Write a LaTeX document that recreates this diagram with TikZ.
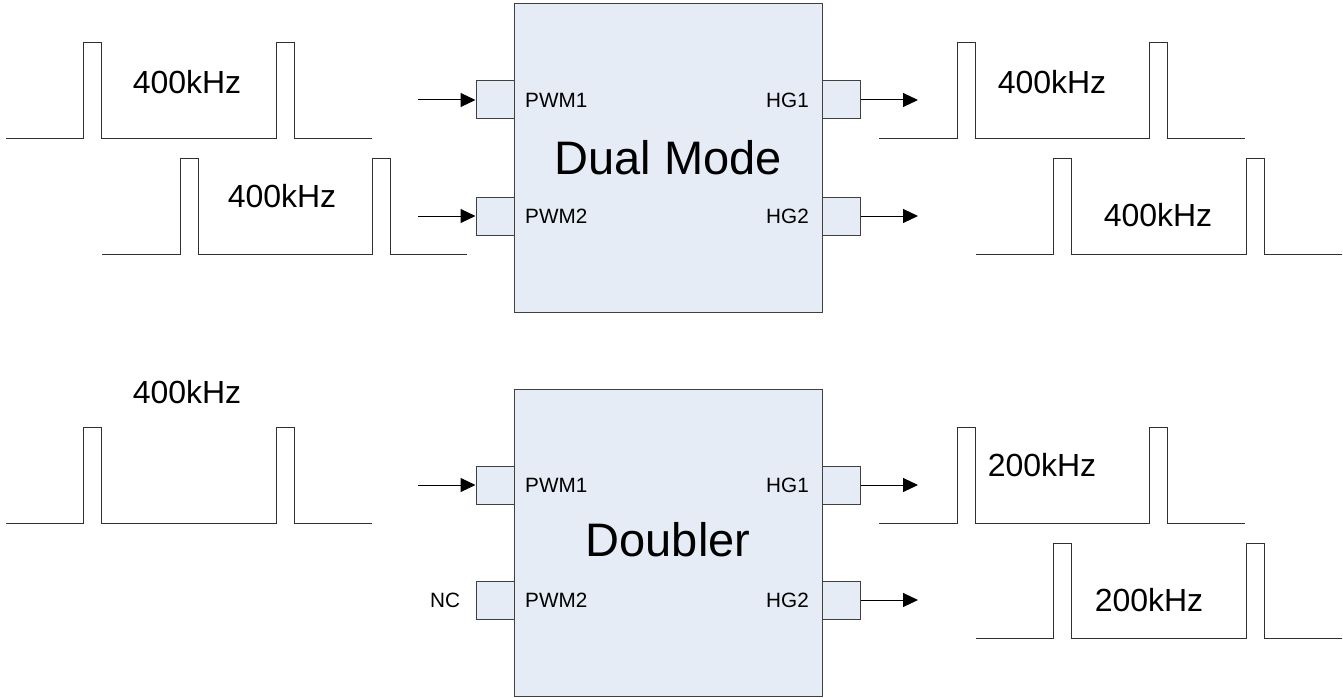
\documentclass[tikz,border=0pt]{standalone}
\usepackage{fontspec}
\setmainfont{Liberation Sans}
\usetikzlibrary{arrows.meta}
\definecolor{boxfill}{HTML}{E6ECF6}
\definecolor{boxline}{HTML}{404040}
\definecolor{waveline}{HTML}{303030}
\tikzset{
  chip/.style={draw=boxline, fill=boxfill, line width=1pt, minimum width=308pt, minimum height=308pt, inner sep=0pt},
  pin/.style={draw=boxline, fill=boxfill, line width=1pt, minimum width=38pt, minimum height=38pt, inner sep=0pt},
  pinlabel/.style={inner sep=0pt, font=\fontsize{20.7}{24}\selectfont},
  freqlabel/.style={inner sep=0pt, font=\fontsize{32}{38}\selectfont},
  chiplabel/.style={inner sep=0pt, font=\fontsize{47}{56}\selectfont},
  wave/.style={draw=waveline, line width=1pt},
  arr/.style={draw=black, line width=1pt, -{Triangle[length=15pt, width=14pt]}}
}
\begin{document}
\begin{tikzpicture}[x=1pt, y=-1pt]
\useasboundingbox (0,0) rectangle (1343,698);

% ---------- Top: Dual Mode ----------
\node[chip] (dm) at (668,158) {};
\node[chiplabel] (dmlabel) at (668,158) {Dual Mode};
\node[pin] (dmp1) at (495,100) {};
\node[pin] (dmp2) at (495,216) {};
\node[pin] (dmh1) at (841.5,100) {};
\node[pin] (dmh2) at (841.5,216) {};
\node[pinlabel, anchor=west] (dmpwm1) at (525,100) {PWM1};
\node[pinlabel, anchor=west] (dmpwm2) at (525,216) {PWM2};
\node[pinlabel, anchor=east] (dmhg1) at (809,100) {HG1};
\node[pinlabel, anchor=east] (dmhg2) at (809,216) {HG2};

\coordinate (dmin1) at (418,100);
\coordinate (dmin2) at (418,216);
\coordinate (dmout1) at (918,100);
\coordinate (dmout2) at (918,216);
\draw[arr] (dmin1) -- (dmp1.west);
\draw[arr] (dmin2) -- (dmp2.west);
\draw[arr] (dmh1.east) -- (dmout1);
\draw[arr] (dmh2.east) -- (dmout2);

% waveforms top-left
\draw[wave] (6,138) -- (83,138) -- (83,43) -- (101,43) -- (101,138) -- (276,138) -- (276,43) -- (294,43) -- (294,138) -- (372,138);
\node[freqlabel] (f1) at (187,82) {400kHz};
\draw[wave] (102,254) -- (180,254) -- (180,158) -- (198,158) -- (198,254) -- (372,254) -- (372,158) -- (390,158) -- (390,254) -- (467,254);
\node[freqlabel] (f2) at (282,196) {400kHz};

% waveforms top-right
\draw[wave] (879,138) -- (957,138) -- (957,43) -- (975,43) -- (975,138) -- (1149,138) -- (1149,43) -- (1167,43) -- (1167,138) -- (1245,138);
\node[freqlabel] (f3) at (1052,82) {400kHz};
\draw[wave] (976,254) -- (1053,254) -- (1053,158) -- (1071,158) -- (1071,254) -- (1246,254) -- (1246,158) -- (1264,158) -- (1264,254) -- (1342,254);
\node[freqlabel] (f4) at (1158,215) {400kHz};

% ---------- Bottom: Doubler ----------
\node[chip, minimum height=307pt] (db) at (668,542.5) {};
\node[chiplabel] (dblabel) at (668,540) {Doubler};
\node[pin] (dbp1) at (495,485) {};
\node[pin] (dbp2) at (495,600) {};
\node[pin] (dbh1) at (841.5,485) {};
\node[pin] (dbh2) at (841.5,600) {};
\node[pinlabel, anchor=west] (dbpwm1) at (525,485) {PWM1};
\node[pinlabel, anchor=west] (dbpwm2) at (525,600) {PWM2};
\node[pinlabel, anchor=east] (dbhg1) at (809,485) {HG1};
\node[pinlabel, anchor=east] (dbhg2) at (809,600) {HG2};
\node[pinlabel] (nc) at (445,600) {NC};

\coordinate (dbin1) at (418,485);
\coordinate (dbout1) at (918,485);
\coordinate (dbout2) at (918,600);
\draw[arr] (dbin1) -- (dbp1.west);
\draw[arr] (dbh1.east) -- (dbout1);
\draw[arr] (dbh2.east) -- (dbout2);

% waveform bottom-left
\draw[wave] (6,523) -- (83,523) -- (83,427) -- (101,427) -- (101,523) -- (276,523) -- (276,427) -- (294,427) -- (294,523) -- (372,523);
\node[freqlabel] (f5) at (187,392) {400kHz};

% waveforms bottom-right
\draw[wave] (879,523) -- (957,523) -- (957,427) -- (975,427) -- (975,523) -- (1149,523) -- (1149,427) -- (1167,427) -- (1167,523) -- (1245,523);
\node[freqlabel] (f6) at (1042,465) {200kHz};
\draw[wave] (976,638) -- (1053,638) -- (1053,543) -- (1071,543) -- (1071,638) -- (1246,638) -- (1246,543) -- (1264,543) -- (1264,638) -- (1342,638);
\node[freqlabel] (f7) at (1149,600) {200kHz};
\end{tikzpicture}
\end{document}
